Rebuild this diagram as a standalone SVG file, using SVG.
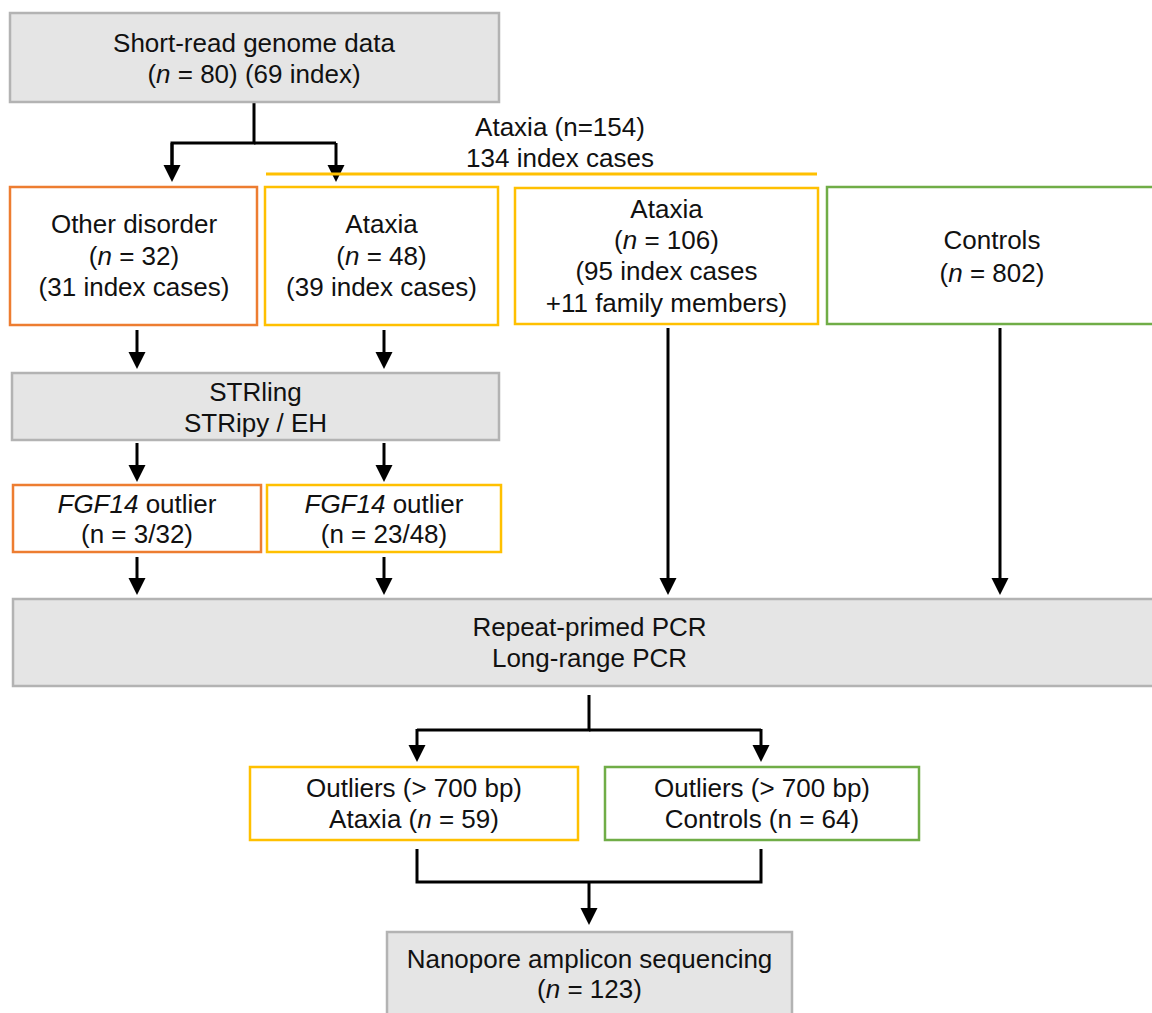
<svg xmlns="http://www.w3.org/2000/svg" width="1152" height="1013" viewBox="0 0 1152 1013">
<defs>
<style>
text{font-family:"Liberation Sans",Arial,sans-serif;font-size:26px;fill:#111;text-anchor:middle}
.i{font-style:italic}
.gray{fill:#e5e5e5;stroke:#b3b3b3;stroke-width:2.5}
.orange{fill:#fff;stroke:#ed7d31;stroke-width:2.5}
.yellow{fill:#fff;stroke:#ffc000;stroke-width:2.5}
.green{fill:#fff;stroke:#70ad47;stroke-width:2.5}
.c{fill:none;stroke:#000;stroke-width:3;marker-end:url(#ah)}
.cn{fill:none;stroke:#000;stroke-width:3}
</style>
<marker id="ah" markerUnits="userSpaceOnUse" markerWidth="18" markerHeight="18" refX="1" refY="9" orient="auto" viewBox="0 0 18 18">
<path d="M0,0.5 L17,9 L0,17.5 z" fill="#000"/>
</marker>
</defs>
<rect width="1152" height="1013" fill="#fff"/>

<g id="connectors">
<path class="cn" d="M254,102 V143 H172 V166"/>
<path class="c" d="M172,143 V166"/>
<path class="cn" d="M254,143 H336"/>
<path class="c" d="M336,143 V166"/>
<path class="c" d="M137,330 V353"/>
<path class="c" d="M384,330 V353"/>
<path class="c" d="M137,443 V466"/>
<path class="c" d="M384,443 V466"/>
<path class="c" d="M137,557 V579"/>
<path class="c" d="M384,557 V579"/>
<path class="c" d="M668,328 V579"/>
<path class="c" d="M1000,328 V579"/>
<path class="cn" d="M589,695 V730 H417"/>
<path class="c" d="M417,729 V746"/>
<path class="cn" d="M589,730 H761"/>
<path class="c" d="M761,729 V746"/>
<path class="cn" d="M417,849 V882 H761 V849"/>
<path class="c" d="M589,882 V909"/>
</g>

<g id="ataxia-group">
<line x1="266" y1="174" x2="817" y2="174" stroke="#ffc000" stroke-width="3"/>
<text x="560" y="136">Ataxia (n=154)</text>
<text x="560" y="167">134 index cases</text>
</g>

<g id="n-short-read">
<rect class="gray" x="10" y="13" width="489" height="89"/>
<text x="254" y="52">Short-read genome data</text>
<text x="254" y="83">(<tspan class="i">n</tspan> = 80) (69 index)</text>
</g>

<g id="n-other">
<rect class="orange" x="10" y="187" width="247" height="138"/>
<text x="134" y="233">Other disorder</text>
<text x="134" y="265">(<tspan class="i">n</tspan> = 32)</text>
<text x="134" y="296">(31 index cases)</text>
</g>

<g id="n-ataxia48">
<rect class="yellow" x="265" y="187" width="233" height="138"/>
<text x="381.5" y="233">Ataxia</text>
<text x="381.5" y="265">(<tspan class="i">n</tspan> = 48)</text>
<text x="381.5" y="296">(39 index cases)</text>
</g>

<g id="n-ataxia106">
<rect class="yellow" x="515" y="188" width="303" height="136"/>
<text x="666.5" y="218">Ataxia</text>
<text x="666.5" y="249">(<tspan class="i">n</tspan> = 106)</text>
<text x="666.5" y="280">(95 index cases</text>
<text x="666.5" y="312">+11 family members)</text>
</g>

<g id="n-controls">
<rect class="green" x="827" y="187" width="330" height="137"/>
<text x="992" y="249">Controls</text>
<text x="992" y="282">(<tspan class="i">n</tspan> = 802)</text>
</g>

<g id="n-strling">
<rect class="gray" x="12" y="373" width="487" height="67"/>
<text x="255.5" y="401">STRling</text>
<text x="255.5" y="432">STRipy / EH</text>
</g>

<g id="n-fgf14-other">
<rect class="orange" x="13" y="485" width="248" height="67"/>
<text x="137" y="513"><tspan class="i">FGF14</tspan> outlier</text>
<text x="137" y="543">(n = 3/32)</text>
</g>

<g id="n-fgf14-ataxia">
<rect class="yellow" x="267" y="485" width="234" height="67"/>
<text x="384" y="513"><tspan class="i">FGF14</tspan> outlier</text>
<text x="384" y="543">(n = 23/48)</text>
</g>

<g id="n-pcr">
<rect class="gray" x="13" y="599" width="1152" height="87"/>
<text x="589.5" y="636">Repeat-primed PCR</text>
<text x="589.5" y="667">Long-range PCR</text>
</g>

<g id="n-out-ataxia">
<rect class="yellow" x="250" y="767" width="328" height="73"/>
<text x="414" y="797">Outliers (&gt; 700 bp)</text>
<text x="414" y="828">Ataxia (<tspan class="i">n</tspan> = 59)</text>
</g>

<g id="n-out-controls">
<rect class="green" x="605" y="767" width="314" height="73"/>
<text x="762" y="797">Outliers (&gt; 700 bp)</text>
<text x="762" y="828">Controls (n = 64)</text>
</g>

<g id="n-nanopore">
<rect class="gray" x="387" y="932" width="405" height="95"/>
<text x="589.5" y="968">Nanopore amplicon sequencing</text>
<text x="589.5" y="998">(<tspan class="i">n</tspan> = 123)</text>
</g>
</svg>
